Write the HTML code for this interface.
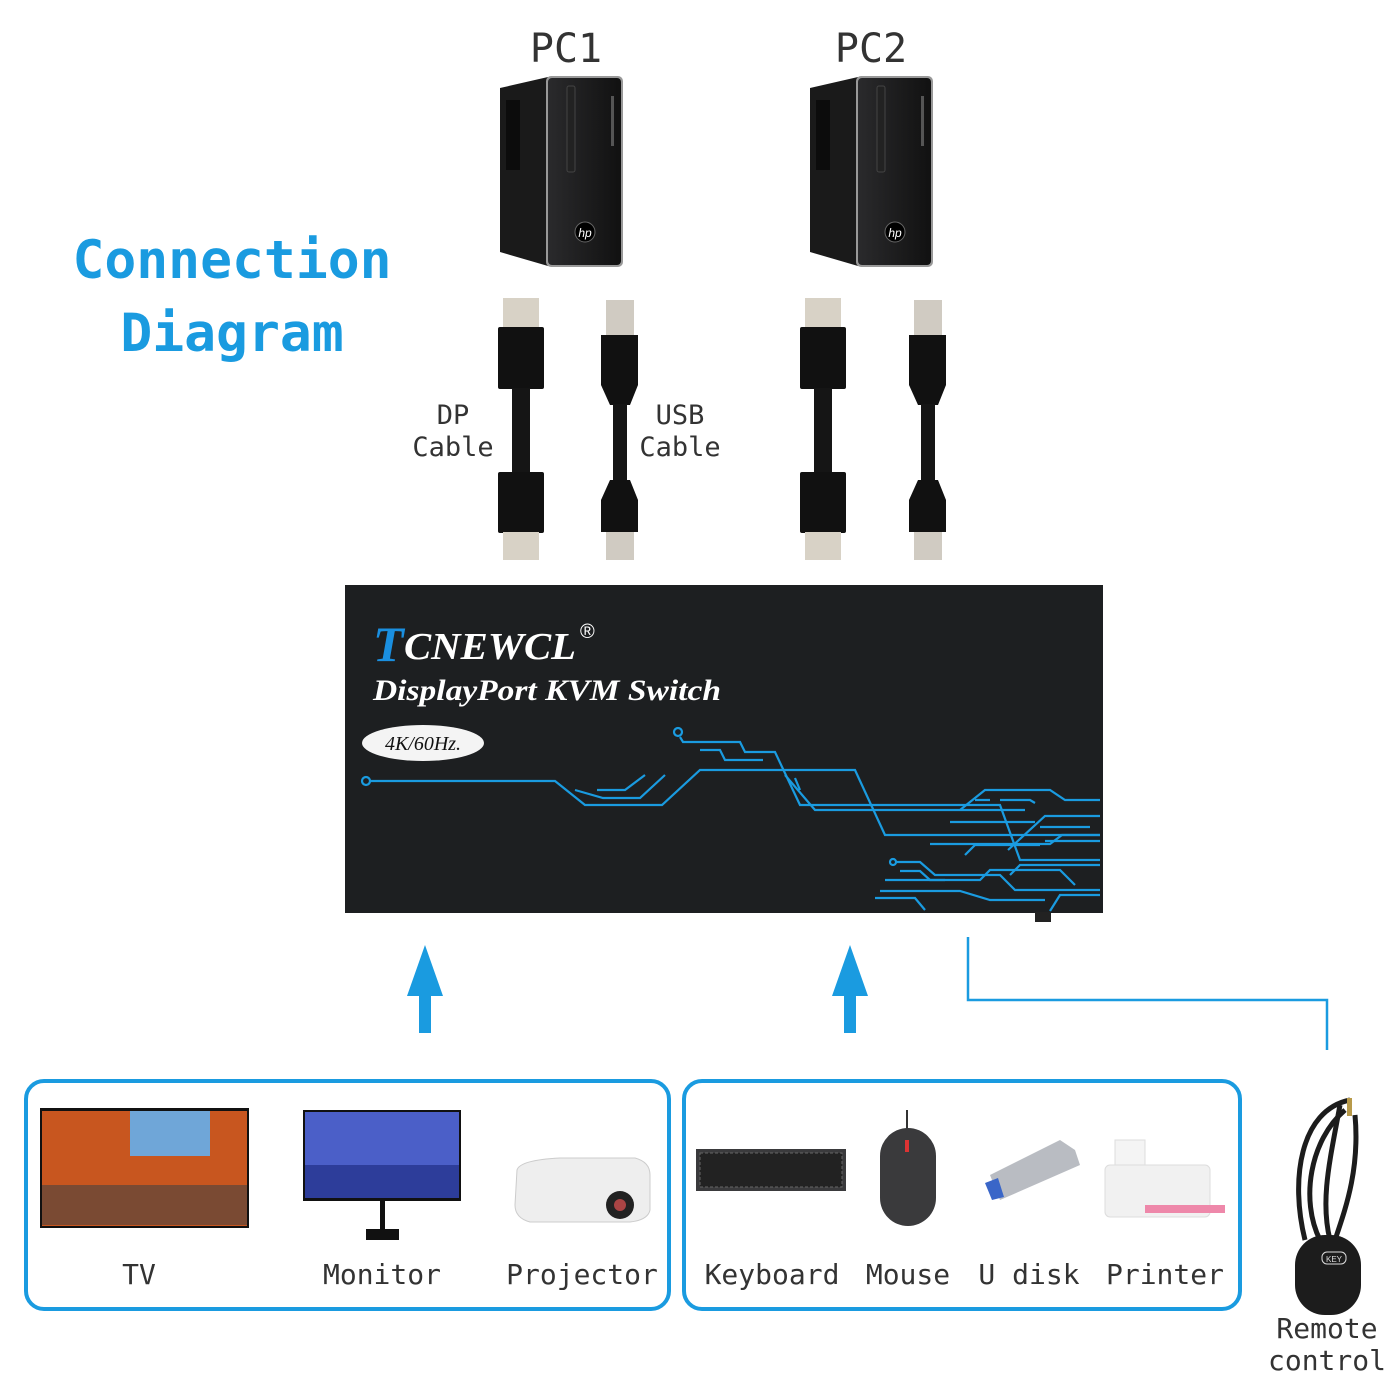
<!DOCTYPE html>
<html><head><meta charset="utf-8"><style>
html,body{margin:0;padding:0;background:#fff;width:1400px;height:1400px;overflow:hidden}
svg{display:block}
.m{font-family:"DejaVu Sans Mono","Liberation Mono",monospace}
</style></head><body>
<svg width="1400" height="1400" viewBox="0 0 1400 1400" xmlns="http://www.w3.org/2000/svg">
<defs>
<linearGradient id="pcf" x1="0" x2="1"><stop offset="0" stop-color="#2a2a2c"/><stop offset="1" stop-color="#111"/></linearGradient>
<g id="pc">
<polygon points="500,88 548,77 548,266 500,252" fill="#1a1a1a"/>
<rect x="506" y="100" width="14" height="70" fill="#0c0c0c"/>
<rect x="546" y="76" width="77" height="191" rx="5" fill="#999"/>
<rect x="548" y="78" width="73" height="187" rx="4" fill="url(#pcf)"/>
<rect x="567" y="86" width="8" height="86" rx="2" fill="#222" stroke="#444"/>
<rect x="611" y="96" width="3" height="50" fill="#555"/>
<circle cx="585" cy="232" r="10" fill="#000" stroke="#666"/>
<text x="585" y="237" font-size="12" fill="#fff" text-anchor="middle" font-style="italic" font-family="Liberation Sans,sans-serif">hp</text>
</g>
<g id="dp">
<rect x="503" y="298" width="36" height="30" fill="#d8d2c6"/>
<rect x="498" y="327" width="46" height="62" rx="2" fill="#111"/>
<rect x="512" y="388" width="18" height="85" fill="#151515"/>
<rect x="498" y="472" width="46" height="61" rx="2" fill="#111"/>
<rect x="503" y="532" width="36" height="28" fill="#d8d2c6"/>
</g>
<g id="usb">
<rect x="606" y="300" width="28" height="36" fill="#d0cbc2"/>
<path d="M601 335 H638 V385 L630 405 H610 L601 385Z" fill="#111"/>
<rect x="613" y="404" width="14" height="78" fill="#151515"/>
<path d="M610 480 H630 L638 500 V532 H601 V500Z" fill="#111"/>
<rect x="606" y="532" width="28" height="28" fill="#d0cbc2"/>
</g>
</defs>

<text class="m" x="566" y="62" font-size="40" fill="#333" text-anchor="middle">PC1</text>
<text class="m" x="871" y="62" font-size="40" fill="#333" text-anchor="middle">PC2</text>
<use href="#pc"/>
<use href="#pc" transform="translate(310,0)"/>

<text class="m" x="232" y="278" font-size="53" font-weight="bold" fill="#1a9be0" text-anchor="middle">Connection</text>
<text class="m" x="232" y="351" font-size="53" font-weight="bold" fill="#1a9be0" text-anchor="middle">Diagram</text>

<use href="#dp"/><use href="#usb"/>
<use href="#dp" transform="translate(302,0)"/><use href="#usb" transform="translate(308,0)"/>
<text class="m" x="453" y="424" font-size="27" fill="#333" text-anchor="middle">DP</text>
<text class="m" x="453" y="456" font-size="27" fill="#333" text-anchor="middle">Cable</text>
<text class="m" x="680" y="424" font-size="27" fill="#333" text-anchor="middle">USB</text>
<text class="m" x="680" y="456" font-size="27" fill="#333" text-anchor="middle">Cable</text>

<rect x="345" y="585" width="758" height="328" fill="#1d1f21"/>
<text x="373" y="661" font-size="50" font-style="italic" font-weight="bold" fill="#1a8fe0" font-family="Liberation Serif,serif">T</text>
<text x="404" y="659" font-size="38" font-style="italic" font-weight="bold" fill="#fff" font-family="Liberation Serif,serif" textLength="172" lengthAdjust="spacingAndGlyphs">CNEWCL</text>
<text x="580" y="638" font-size="20" fill="#fff" font-family="Liberation Sans,sans-serif">®</text>
<text x="373" y="700" font-size="30" font-style="italic" font-weight="bold" fill="#fff" font-family="Liberation Serif,serif" textLength="348" lengthAdjust="spacingAndGlyphs">DisplayPort KVM Switch</text>
<ellipse cx="423" cy="743" rx="61" ry="18" fill="#f4f4f4"/>
<text x="423" y="750" font-size="20" font-style="italic" fill="#111" text-anchor="middle" font-family="Liberation Serif,serif">4K/60Hz.</text>
<g fill="none" stroke="#1a9be0" stroke-width="2.2">
<circle cx="366" cy="781" r="4"/>
<path d="M370 781 H555 L585 805 H662 L700 770 H855 L885 835 H1100"/>
<path d="M575 790 L603 798 H640 L665 775"/>
<path d="M597 790 H625 L645 775"/>
<circle cx="678" cy="732" r="4"/>
<path d="M680 737 L683 742 H740 L745 752 H775 L800 805 H1000 L1020 860 H1100"/>
<path d="M700 750 H720 L725 760 H763"/>
<path d="M785 775 L815 810 H1025"/>
<path d="M795 778 L800 790"/>
<path d="M1008 850 L1045 816 H1100"/>
<path d="M1040 827 H1090"/>
<path d="M960 810 L985 790 H1050 L1065 800 H1100"/>
<path d="M975 800 L990 800 M1000 800 H1030 L1035 803"/>
<path d="M930 844 H1050 L1062 835 H1100"/>
<path d="M950 822 H1035 M1045 841 H1100"/>
<path d="M895 862 H920 L935 875 H1000 L1015 890 H1100"/>
<circle cx="893" cy="862" r="3"/>
<path d="M900 871 H920 L930 880 H945"/>
<path d="M885 880 H980 L990 870 H1060 L1075 885"/>
<path d="M875 898 H915 L925 910 M880 891 H960 L990 900 H1045"/>
<path d="M1010 875 L1020 865 H1100"/>
<path d="M1050 911 L1060 895 H1100"/>
<path d="M965 855 L975 845 H1040"/>
</g>
<rect x="1035" y="912" width="16" height="10" fill="#222"/>

<path d="M425 945 L407 996 H419 V1033 H431 V996 H443Z" fill="#1a9be0"/>
<path d="M850 945 L832 996 H844 V1033 H856 V996 H868Z" fill="#1a9be0"/>
<path d="M968 937 V1000 H1327 V1050" fill="none" stroke="#1a9be0" stroke-width="2.5"/>

<rect x="26" y="1081" width="643" height="228" rx="18" fill="none" stroke="#1a9be0" stroke-width="4"/>
<rect x="684" y="1081" width="556" height="228" rx="18" fill="none" stroke="#1a9be0" stroke-width="4"/>

<rect x="40" y="1108" width="209" height="120" fill="#111"/>
<rect x="42" y="1111" width="205" height="115" fill="#c8561f"/>
<rect x="130" y="1111" width="80" height="45" fill="#6fa6d8"/>
<rect x="42" y="1185" width="205" height="40" fill="#7a4a33"/>
<rect x="303" y="1110" width="158" height="91" fill="#111"/>
<rect x="305" y="1112" width="154" height="86" fill="#4b5fc8"/>
<rect x="305" y="1165" width="154" height="33" fill="#2d3d9a"/>
<rect x="380" y="1200" width="5" height="30" fill="#111"/>
<rect x="366" y="1229" width="33" height="11" fill="#111"/>
<path d="M517 1170 Q520 1160 560 1158 H635 Q650 1162 650 1175 V1210 Q648 1220 630 1222 H530 Q515 1218 515 1205Z" fill="#eee" stroke="#ccc"/>
<circle cx="620" cy="1205" r="14" fill="#222"/><circle cx="620" cy="1205" r="6" fill="#a44"/>
<rect x="696" y="1149" width="150" height="42" fill="#3a3a3c"/>
<rect x="700" y="1153" width="142" height="34" fill="#222" stroke="#666" stroke-dasharray="3 2"/>
<line x1="907" y1="1110" x2="907" y2="1130" stroke="#333" stroke-width="2"/>
<rect x="880" y="1128" width="56" height="98" rx="28" fill="#3a3a3c"/>
<rect x="905" y="1140" width="4" height="12" fill="#d33"/>
<path d="M990 1175 L1060 1140 L1075 1150 L1080 1165 L1000 1200Z" fill="#b9bcc2"/>
<path d="M985 1183 L998 1178 L1004 1197 L992 1200Z" fill="#3a66c8"/>
<rect x="1115" y="1140" width="30" height="30" fill="#f4f4f4" stroke="#ddd"/>
<rect x="1105" y="1165" width="105" height="52" rx="5" fill="#f1f1f1" stroke="#ddd"/>
<rect x="1145" y="1205" width="80" height="8" fill="#e8a"/>

<g class="m" font-size="28" fill="#333" text-anchor="middle">
<text x="139" y="1284">TV</text>
<text x="382" y="1284">Monitor</text>
<text x="582" y="1284">Projector</text>
<text x="772" y="1284">Keyboard</text>
<text x="908" y="1284">Mouse</text>
<text x="1029" y="1284">U disk</text>
<text x="1165" y="1284">Printer</text>
<text x="1327" y="1338">Remote</text>
<text x="1327" y="1370">control</text>
</g>
<g fill="none" stroke="#1c1c1c" stroke-width="5">
<path d="M1350 1100 C1300 1110 1290 1180 1305 1240"/>
<path d="M1345 1110 C1310 1140 1300 1200 1320 1240"/>
<path d="M1355 1115 C1360 1170 1345 1210 1335 1240"/>
<path d="M1340 1105 C1330 1160 1320 1200 1330 1240"/>
</g>
<rect x="1347" y="1098" width="5" height="18" fill="#b89a4a"/>
<rect x="1295" y="1235" width="66" height="80" rx="30" fill="#1c1c1c"/>
<rect x="1322" y="1252" width="24" height="12" rx="5" fill="none" stroke="#ddd"/>
<text x="1334" y="1262" font-size="8" fill="#ddd" text-anchor="middle" font-family="Liberation Sans,sans-serif">KEY</text>
</svg>
</body></html>
